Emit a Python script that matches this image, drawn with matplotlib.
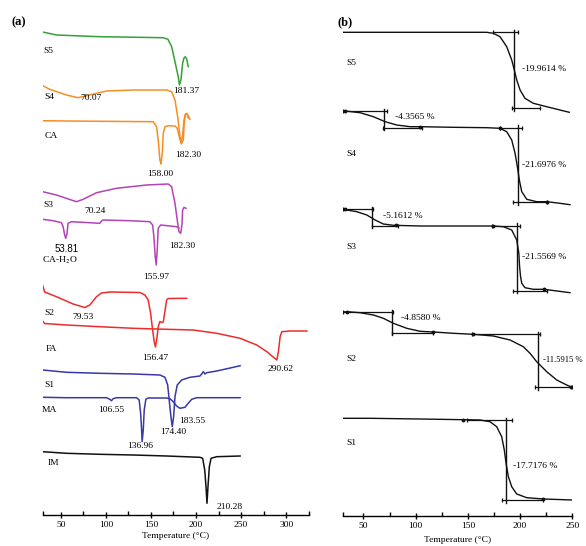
import matplotlib
matplotlib.use('Agg')
import matplotlib.pyplot as plt
from matplotlib.ticker import FixedLocator

plt.rcParams['font.family'] = ['Liberation Serif', 'DejaVu Serif']
plt.rcParams['mathtext.fontset'] = 'stix'

# ---------------- DSC data (panel a): temperature (°C), heat flow (a.u., offset) ----------------
s5_T = [30, 45.2, 93.3, 163.3, 168.9, 173.0, 176.7, 180.3, 181.7, 183.3, 185.2, 186.7, 188.1, 189.7, 191.4]
s5_hf = [483, 480, 478.3, 477.3, 475.7, 468.3, 453.3, 438.3, 430, 435, 452, 457, 458.3, 456, 448.3]

s4_T = [30, 37.8, 56.3, 69.2, 82.2, 100.8, 130.0, 167.4, 173.0, 176.7, 179.7, 182.2, 183.7, 185.2, 186.7, 188.3, 190.0, 191.4]
s4_hf = [429.3, 425.7, 420, 417.3, 420, 424, 425, 425, 423.3, 415, 398.3, 378.3, 372, 380, 395, 401, 401, 397]

ca_T = [30, 56.3, 152.6, 156.3, 158.1, 160, 161.1, 162.6, 163.7, 165.6, 169.2, 176.7, 179.2, 181.4, 183.7, 185.9, 187.0, 188.1, 189.7, 191.9, 193.3]
ca_hf = [394.3, 394, 393.3, 388.3, 375, 355, 351, 362, 381.7, 388.3, 389.3, 389, 386.7, 378.3, 371, 375, 392, 400, 401.7, 398.3, 395.7]

s3_T = [30, 45.2, 67.4, 74.8, 89.7, 111.9, 145.2, 169.2, 173, 176.7, 179.2, 181.1, 183, 184.4, 185.2, 186.7, 188.9]
s3_hf = [323.3, 320, 313.3, 315.7, 322.3, 326.7, 330, 331, 328.3, 311.7, 295, 283.3, 281.7, 290, 305, 307.7, 306.7]

cah2o_T = [30, 41.5, 50.8, 52.6, 54.4, 55.5, 57, 58.1, 61.9, 93.3, 95.2, 97, 126.7, 148.9, 151.9, 153.3, 154.8, 155.9, 157, 158.1, 160.8, 178.5, 181.1]
cah2o_hf = [295.7, 294.3, 292.3, 288.3, 280, 276.7, 281.7, 291.7, 293.3, 291.7, 294, 295, 294.3, 293.3, 290, 278.3, 258.3, 250, 265, 286.7, 290, 288.3, 287]

s2_T = [30, 32.2, 45.2, 63.7, 76.7, 82.2, 89.7, 95.2, 104.4, 137.8, 143.3, 147, 149.7, 151.9, 153.7, 155, 156.7, 158.1, 160, 161.9, 163.7, 165.6, 167.4, 169.2, 189.7]
s2_hf = [229.5, 223, 218.3, 211, 207.5, 210, 218.3, 222, 223, 222.5, 220, 215, 201.7, 185, 173, 168, 177, 188.3, 193.5, 192.5, 193, 204, 215, 216.5, 216.7]

fa_T = [30, 32, 56.3, 93.3, 130.3, 167.4, 197, 223, 248.9, 267.4, 278.6, 285.9, 289.7, 291.4, 293.3, 295.2, 304.4, 323]
fa_hf = [194, 191.5, 190, 188.3, 186.7, 185.7, 185, 181.7, 176.7, 170, 163.3, 157.7, 155, 163.3, 178.3, 183.3, 184, 184]

s1_T = [30, 56.3, 93.3, 130.3, 160, 165.6, 168.6, 170.3, 172.2, 173.7, 175.2, 176.7, 179.2, 184.1, 193.3, 204.4, 206.3, 208.1, 210, 211.9, 223, 241.4, 248.9]
s1_hf = [145, 142.7, 141.7, 141, 140, 137.7, 130, 115, 98.3, 88.3, 98.3, 118.3, 130, 135, 137.7, 139, 141, 143.3, 141, 142.3, 144, 147.7, 149.3]

ma_T = [30, 56.3, 100.8, 104.4, 106.3, 108.1, 111.9, 134.1, 137, 138.6, 139.7, 140.3, 141.5, 142.6, 144.4, 147, 167.4, 171.1, 174.8, 178.5, 182.2, 187.8, 191.4, 195.2, 200.8, 248.9]
ma_hf = [117.7, 117.3, 117.3, 115.7, 114.3, 116.3, 117.3, 117.3, 115, 101.7, 85, 73.3, 85, 105, 115.7, 117, 117, 116.3, 113.3, 109, 106.7, 107.7, 111.7, 115.7, 117.3, 117.3]

im_T = [30, 56.3, 93.3, 130.3, 167.4, 204.4, 207.4, 209.7, 211.1, 212.2, 213.3, 214.8, 216.7, 223, 248.9]
im_hf = [63.3, 61.7, 60.7, 60, 59, 57.7, 56.7, 45, 28.3, 11.7, 28.3, 48.3, 56.7, 58.3, 59]

dsc_names = ['S5', 'S4', 'CA', 'S3', 'CA-H$_2$O', 'S2', 'FA', 'S1', 'MA', 'IM']
dsc_peaks = ['181.37', '70.07', '182.30', '158.00', '70.24', '53.81', '182.30', '155.97',
             '79.53', '156.47', '290.62', '106.55', '136.96', '174.40', '183.55', '210.28']

# ---------------- TGA data (panel b): temperature (°C), mass (a.u., offset) ----------------
t5_T = [30, 168.1, 174.4, 180.8, 187.2, 192, 194.5, 196.8, 200, 204.7, 212.7, 225.5, 238.2, 247.1]
t5_m = [483.7, 483.7, 482.7, 479.3, 469.3, 456, 446, 436, 426, 417.7, 412.7, 409.3, 406, 403.7]

t4_T = [30, 32.5, 46.8, 59.6, 70.8, 81.9, 94.7, 104.2, 136.1, 168.1, 180.8, 187.2, 192, 195.2, 197.4, 199.3, 201.6, 206.4, 215.9, 225.5, 238.2, 247.8]
t4_m = [405, 405, 403.3, 399.3, 394.3, 391, 389.3, 389.3, 388.7, 388.3, 387.7, 384.3, 376, 362.7, 349.3, 336, 324.3, 316.7, 314.3, 314.3, 312.7, 311.3]

t3_T = [30, 43.7, 53.3, 61.2, 69.1, 78.7, 104.3, 136.1, 174.4, 184, 192, 196.8, 198.8, 199.5, 200.4, 201.6, 204.7, 212.7, 222.9, 247.8]
t3_m = [306.7, 304.3, 301, 296, 292, 290.7, 290, 290, 290, 289.3, 286, 276, 263, 250, 240, 232.7, 228.3, 226.7, 226.7, 223.3]

t2_T = [30, 34.7, 46.8, 59.6, 69.1, 78.7, 91.5, 104.3, 117, 136.1, 155.3, 174.4, 190.4, 203.1, 209.5, 215.9, 225.5, 235.1, 244.6, 248.5]
t2_m = [204, 204.3, 203.3, 201, 197.7, 192.7, 187.7, 184.7, 184, 182.7, 181.7, 180, 176, 169.3, 162.7, 154.3, 144.3, 136, 131, 129.3]

t1_T = [30, 56.4, 104.3, 145.7, 161.7, 171.2, 177.6, 182.4, 184.9, 186.6, 188.8, 192, 196.8, 206.4, 222.3, 250]
t1_m = [97.7, 97.7, 97, 96.3, 96, 94.3, 89.3, 79.3, 66, 52.7, 39.3, 29.3, 22, 18.3, 17, 16]

# tangent constructions: top line T range, top level, vertical T, bottom line T range, bottom level
step_top0 = [174.4, 30, 180.8, 30, 172.9, 30, 153.7, 149]
step_top1 = [198.0, 72.4, 201.6, 59.6, 200.0, 78.7, 219.1, 192]
step_mtop = [483.7, 405, 388.3, 306.7, 290.3, 204, 181.7, 96]
step_vert = [194.5, 70.1, 197.8, 58.6, 197.4, 77.2, 217.5, 186.6]
step_bot0 = [192, 69.1, 193.6, 58.0, 193.6, 77.2, 214.3, 182.4]
step_bot1 = [219, 105.9, 225.5, 83.5, 225.5, 117, 249.4, 222.3]
step_mbot = [407.7, 388.3, 313.7, 290.3, 225.3, 183.3, 128.7, 16]
step_loss = ['-19.9614 %', '-4.3565 %', '-21.6976 %', '-5.1612 %', '-21.5569 %', '-4.8580 %', '-11.5915 %', '-17.7176 %']

dot_T = [32.5, 104.2, 180.8, 225.5, 32.5, 81.3, 174.4, 222.9, 34.7, 117, 155.3, 248.5, 145.7, 222.3]
dot_m = [405, 389.3, 387.7, 314.3, 306.7, 291, 290, 226.7, 204.3, 184, 181.7, 129.3, 96.3, 17]

tga_names = ['S5', 'S4', 'S3', 'S2', 'S1']

# ---------------- figure ----------------
W, H = 586, 546
fig = plt.figure(figsize=(W / 100, H / 100), dpi=100)

axa = fig.add_axes([42.7 / W, 1 - 515 / H, 266 / W, 495 / H])
axb = fig.add_axes([342.5 / W, 1 - 516 / H, 229.8 / W, 496 / H])

green = '#35a035'
orange = '#f98d25'
purple = '#b443b4'
red = '#ef2c2c'
blue = '#3838a8'
black = '#111111'
lw = 1.1

axa.plot(s5_T, s5_hf, color=green, lw=lw)
axa.plot(s4_T, s4_hf, color=orange, lw=lw)
axa.plot(ca_T, ca_hf, color=orange, lw=lw)
axa.plot(s3_T, s3_hf, color=purple, lw=lw)
axa.plot(cah2o_T, cah2o_hf, color=purple, lw=lw)
axa.plot(s2_T, s2_hf, color=red, lw=lw)
axa.plot(fa_T, fa_hf, color=red, lw=lw)
axa.plot(s1_T, s1_hf, color=blue, lw=lw)
axa.plot(ma_T, ma_hf, color=blue, lw=lw)
axa.plot(im_T, im_hf, color=black, lw=lw)

fs = 6.8
name_pos = [(36.7, 464), (37, 417.7), (39.7, 379), (35.9, 310), (48.9, 255),
            (37.8, 202.3), (39.7, 165.7), (37, 130), (37.8, 105), (41.5, 51.7)]
for name, (tx, ty) in zip(dsc_names, name_pos):
    axa.text(tx, ty, name, fontsize=fs, ha='center', va='center')

peak_pos = [(189.7, 424.3), (84.1, 417.3), (191.4, 360), (160.8, 341), (87.8, 304.3),
            (56.3, 266), (185.2, 269), (156.3, 237.7), (74.8, 198.3), (154.4, 156.7),
            (293.3, 146), (106.3, 105), (137.8, 69.3), (174.8, 83.3), (196.3, 94.3), (237, 7.7)]
for lab, (tx, ty) in zip(dsc_peaks, peak_pos):
    if lab == '53.81':
        axa.text(tx, ty, lab, fontsize=7, ha='center', va='center', family='Liberation Sans')
    else:
        axa.text(tx, ty, lab, fontsize=fs, ha='center', va='center')

axa.set_xlim(30, 325)
axa.set_ylim(0, 495)

# TGA
for T, m in [(t5_T, t5_m), (t4_T, t4_m), (t3_T, t3_m), (t2_T, t2_m), (t1_T, t1_m)]:
    axb.plot(T, m, color=black, lw=1.0)

for i in range(len(step_vert)):
    axb.plot([step_top0[i], step_top1[i]], [step_mtop[i]] * 2, color=black, lw=0.9,
             marker='|', markersize=3.5, markeredgewidth=0.9)
    axb.plot([step_bot0[i], step_bot1[i]], [step_mbot[i]] * 2, color=black, lw=0.9,
             marker='|', markersize=3.5, markeredgewidth=0.9)
    axb.plot([step_vert[i]] * 2, [step_mtop[i] + 2.5, step_mbot[i] - 2.5], color=black, lw=1.0)

axb.plot(dot_T, dot_m, ls='none', marker='o', markersize=1.8, color=black)

loss_pos = [(201.6, 446.7), (80.3, 398.7), (201.9, 351), (69.1, 300), (201.9, 259.3),
            (86.1, 198.3), (222.0, 156), (193, 50)]
for lab, (tx, ty) in zip(step_loss, loss_pos):
    size = 6.2 if lab == '-11.5915 %' else fs
    axb.text(tx, ty, lab, fontsize=size, ha='left', va='center')

tname_pos = [(38.9, 452.7), (38.9, 361.7), (38.9, 268.7), (38.9, 156.7), (38.9, 72.7)]
for name, (tx, ty) in zip(tga_names, tname_pos):
    axb.text(tx, ty, name, fontsize=fs, ha='center', va='center')

axb.set_xlim(30, 250)
axb.set_ylim(0, 496)

for ax, majors, minors, lpad in [(axa, [50, 100, 150, 200, 250, 300], [30, 75, 125, 175, 225, 275, 325], 2),
                                 (axb, [50, 100, 150, 200, 250], [30, 75, 125, 175, 225], 4.5)]:
    for s in ['left', 'right', 'top']:
        ax.spines[s].set_visible(False)
    ax.spines['bottom'].set_linewidth(1.0)
    ax.set_yticks([])
    ax.xaxis.set_major_locator(FixedLocator(majors))
    ax.xaxis.set_minor_locator(FixedLocator(minors))
    ax.tick_params(axis='x', which='major', direction='inout', length=5, width=1.0,
                   labelsize=fs, pad=2)
    ax.tick_params(axis='x', which='minor', direction='in', length=3, width=1.0)
    ax.set_xlabel('Temperature (°C)', fontsize=fs, labelpad=lpad)
    ax.patch.set_alpha(0)

fig.text(18.3 / W, 1 - 22.7 / H, '(a)', fontsize=9, fontweight='bold', ha='center', va='center')
fig.text(345 / W, 1 - 22 / H, '(b)', fontsize=9, fontweight='bold', ha='center', va='center')

fig.savefig('out.png', dpi=100)
